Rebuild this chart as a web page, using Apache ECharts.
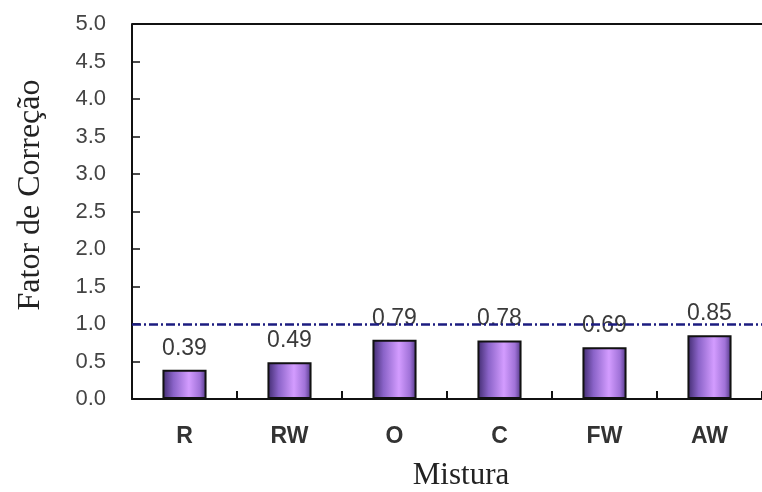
<!DOCTYPE html>
<html>
<head>
<meta charset="utf-8">
<script src="https://cdn.jsdelivr.net/npm/echarts@6/dist/echarts.min.js"></script>
<style>
  html, body { margin: 0; padding: 0; background: #ffffff; }
  #chart { width: 762px; height: 492px; }
</style>
</head>
<body>
<div id="chart"></div>
<script>
// Correction factor per mixture
const categories = ['R', 'RW', 'O', 'C', 'FW', 'AW'];
const factors = [0.39, 0.49, 0.79, 0.78, 0.69, 0.85];
const referenceLevel = 1.0;
const yMin = 0, yMax = 5, yStep = 0.5;

const chart = echarts.init(document.getElementById('chart'), null, { renderer: 'canvas' });

const barFill = new echarts.graphic.LinearGradient(0, 0, 1, 0, [
  { offset: 0, color: '#3f2a6e' },
  { offset: 0.25, color: '#8a63c8' },
  { offset: 0.6, color: '#d39cff' },
  { offset: 0.85, color: '#a072d8' },
  { offset: 1, color: '#4b3380' }
]);

const sans = 'Arial, "Liberation Sans", sans-serif';
const serif = '"Times New Roman", "Liberation Serif", serif';

chart.setOption({
  backgroundColor: '#ffffff',
  animation: false,
  grid: { left: 132, top: 24, width: 636, height: 375, containLabel: false },
  xAxis: {
    type: 'category',
    data: categories,
    boundaryGap: true,
    axisLine: { show: true, lineStyle: { color: '#111', width: 2 } },
    axisTick: { show: true, inside: true, length: 8, lineStyle: { color: '#111', width: 2 } },
    axisLabel: {
      margin: 26, fontFamily: sans,
      fontSize: 23, fontWeight: 'bold', color: '#333'
    },
    splitLine: { show: false }
  },
  yAxis: [{
    type: 'value',
    min: yMin, max: yMax, interval: yStep,
    axisLine: { show: true, lineStyle: { color: '#111', width: 2 } },
    axisTick: { show: true, inside: true, length: 8, lineStyle: { color: '#111', width: 1.5 } },
    axisLabel: {
      margin: 26, fontFamily: sans,
      fontSize: 22, color: '#444',
      formatter: v => v.toFixed(1)
    },
    splitLine: { show: false }
  }],
  graphic: [
    // top frame line
    { type: 'line', shape: { x1: 132, y1: 24, x2: 762, y2: 24 }, style: { stroke: '#111', lineWidth: 2 }, z: 10 },
    {
      type: 'text', x: 31, y: 195, rotation: Math.PI / 2,
      style: {
        text: 'Fator de Correção', fontFamily: serif,
        fontSize: 32, fill: '#222', align: 'center', verticalAlign: 'middle'
      }
    },
    {
      type: 'text', x: 461, y: 476,
      style: {
        text: 'Mistura', fontFamily: serif,
        fontSize: 31, fill: '#222', align: 'center', verticalAlign: 'middle'
      }
    }
  ],
  series: [{
    type: 'bar',
    data: factors,
    barWidth: '42%',
    itemStyle: { color: barFill, borderColor: '#111', borderWidth: 2 },
    label: {
      show: true, position: 'top', distance: 10,
      fontFamily: sans, fontSize: 23, color: '#3a3a3a',
      formatter: p => p.value.toFixed(2)
    },
    markLine: {
      silent: true, symbol: 'none', z: 20,
      label: { show: false },
      lineStyle: { color: '#1c1c80', width: 2.5, type: [9, 3, 2, 3] },
      data: [{ yAxis: referenceLevel }]
    }
  }]
});
</script>
</body>
</html>
